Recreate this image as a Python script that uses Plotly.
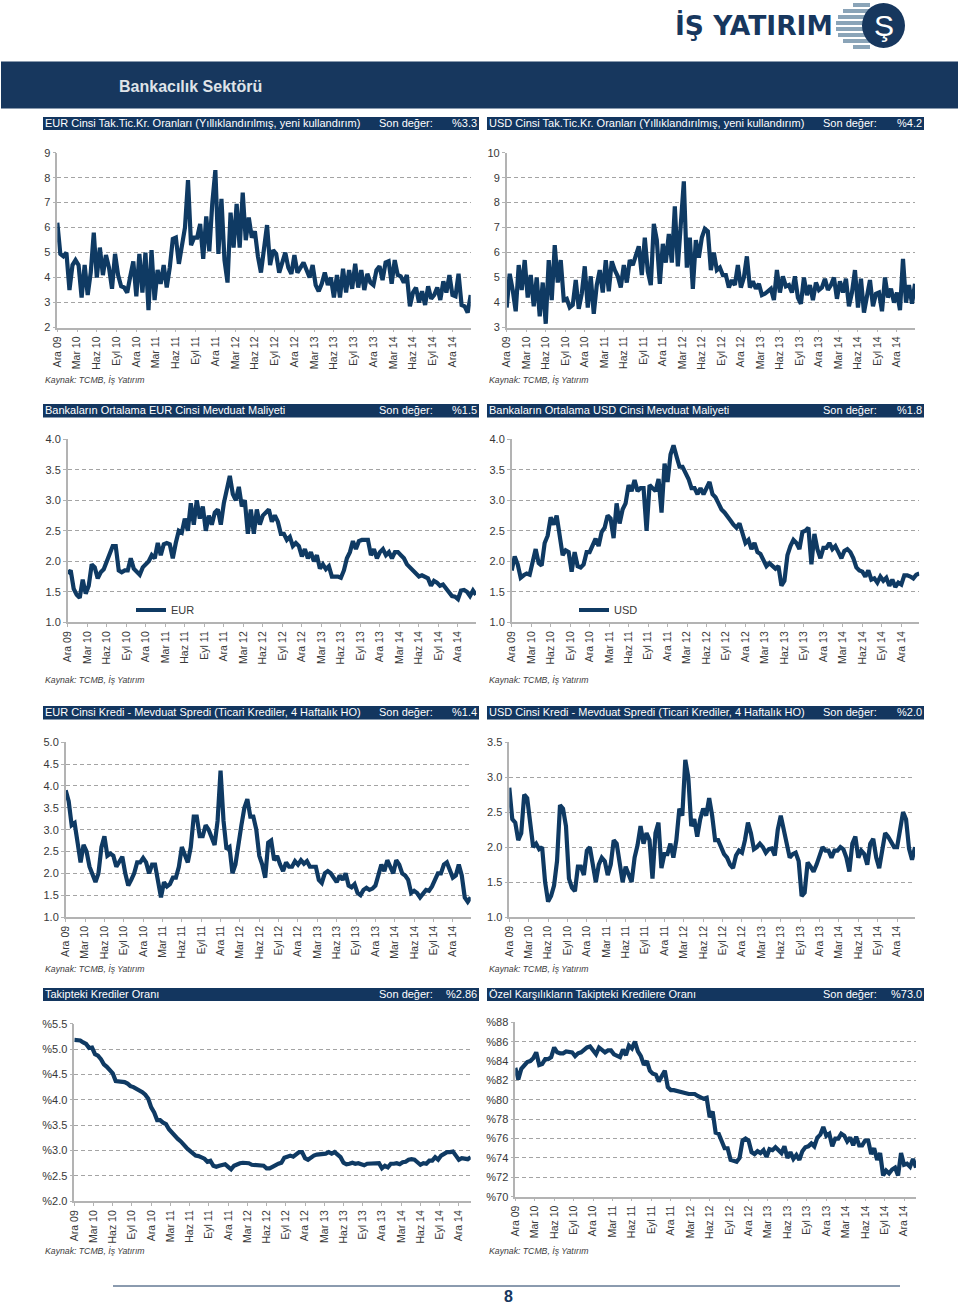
import plotly.graph_objects as go

tick_labels = ["Ara 09","Mar 10","Haz 10","Eyl 10","Ara 10","Mar 11","Haz 11","Eyl 11","Ara 11","Mar 12","Haz 12",
               "Eyl 12","Ara 12","Mar 13","Haz 13","Eyl 13","Ara 13","Mar 14","Haz 14","Eyl 14","Ara 14"]
tick_weeks = [13*i for i in range(len(tick_labels))]
SAMPLE_STEP_WEEKS = 2

eur_rate = [
6.2,4.95,4.85,5.0,3.5,4.5,4.7, 4.5,3.2,4.5,3.3,4.2,5.8,
4.0,5.2,4.1,4.9,4.4,3.55,4.95, 4.1,3.65,3.6,3.4,4.05,4.65,
3.25,4.95,3.4,5.0,2.7,5.1,3.1, 4.3,3.75,4.5,3.6,4.4,5.55,
5.6,4.55,5.2,6.0,7.9,5.3,5.6, 5.6,6.15,4.75,6.45,5.05,7.0,
8.3,4.95,7.15,4.7,3.8,6.6,5.2, 6.95,5.2,7.4,5.5,6.4,5.6,
5.85,4.85,4.2,5.1,6.1,4.5,5.1, 4.95,4.2,4.6,5.0,4.4,4.15,
4.9,4.2,4.4,4.6,4.3,4.0,4.5, 3.7,3.45,3.75,4.2,3.7,4.0,
3.2,4.1,3.2,4.35,3.4,4.3,3.55, 4.55,3.6,4.3,3.5,4.15,3.8,
3.7,4.3,4.45,3.9,4.6,4.65,3.75, 4.7,4.1,4.05,3.8,4.1,2.85,
3.4,3.6,3.0,3.45,2.9,3.65,3.15, 3.3,3.6,3.1,3.85,3.4,4.1,
3.3,3.25,4.15,2.9,2.85,2.6,3.3]

usd_rate = [
3.8,5.15,4.5,3.65,5.5,4.5,5.7, 4.2,5.1,3.85,5.0,3.45,4.8,
3.15,5.7,4.1,6.3,4.8,5.7,4.1, 4.15,3.8,3.9,4.9,3.75,4.35,
5.45,3.8,5.05,3.55,4.7,5.3,4.4, 5.7,4.45,5.65,5.3,5.05,4.6,
5.5,4.8,5.7,5.5,5.9,6.25,5.1, 6.6,5.25,4.7,7.15,6.5,4.75,
6.35,5.6,6.75,5.6,7.85,5.45,7.5, 8.85,5.4,6.6,4.55,6.5,5.8,
6.6,6.95,6.85,5.3,6.0,5.3,5.4, 5.1,5.1,4.6,4.9,4.7,5.5,
4.6,5.0,5.85,4.6,4.85,4.55,4.75, 4.3,4.35,4.45,4.55,4.1,5.3,
4.4,5.05,4.65,4.7,4.4,5.05,4.2, 3.95,5.0,4.3,4.7,4.1,4.8,
4.5,4.6,4.95,4.5,4.7,5.0,4.15, 4.85,4.4,4.95,3.85,4.4,5.3,
3.8,4.95,3.6,4.3,4.9,3.85,4.35, 4.4,3.65,5.0,4.2,4.55,4.0,
4.4,3.7,5.75,4.0,4.7,3.95,4.75]

eur_deposit = [
1.8,1.85,1.55,1.45,1.4,1.7,1.47, 1.6,1.95,1.9,1.72,1.82,1.87,
2.0,2.1,2.25,2.25,1.85,1.82,1.85, 1.85,2.05,1.88,1.82,1.78,1.9,
1.95,2.0,2.1,2.05,2.3,2.1,2.28, 2.3,2.28,2.05,2.3,2.5,2.47,
2.7,2.5,2.95,2.6,3.0,2.7,2.9, 2.5,2.75,2.6,2.8,2.85,2.6,
2.95,3.2,3.4,3.1,3.0,3.22,2.9, 3.0,2.45,2.85,2.45,2.85,2.6,
2.75,2.8,2.85,2.65,2.75,2.65,2.45, 2.45,2.35,2.4,2.25,2.3,2.25,
2.08,2.2,2.05,2.15,2.0,2.1,1.88, 1.95,1.87,1.92,1.75,1.75,1.75,
1.73,1.85,2.05,2.15,2.33,2.2,2.33, 2.35,2.35,2.35,2.1,2.2,2.05,
2.15,2.2,2.1,2.15,2.05,2.15,2.15, 2.1,2.05,1.95,1.9,1.85,1.8,
1.75,1.77,1.75,1.72,1.6,1.68,1.65, 1.6,1.62,1.55,1.48,1.43,1.42,
1.38,1.52,1.53,1.5,1.43,1.52,1.45]

usd_deposit = [
1.85,2.08,1.95,1.73,1.77,1.8,1.78, 2.0,2.2,1.97,1.93,2.3,2.42,
2.72,2.6,2.75,2.4,2.1,2.18,2.15, 1.83,2.15,1.92,1.9,1.95,2.15,
2.15,2.25,2.37,2.25,2.48,2.55,2.75, 2.7,2.38,2.95,2.62,2.85,2.95,
3.25,3.15,3.33,3.15,3.2,3.2,2.5, 3.25,3.2,3.15,3.35,2.8,3.6,
3.3,3.75,3.9,3.72,3.55,3.55,3.45, 3.35,3.2,3.2,3.1,3.2,3.1,
3.2,3.3,3.1,3.05,2.95,2.85,2.8, 2.72,2.67,2.6,2.55,2.62,2.45,
2.3,2.35,2.2,2.3,2.15,2.12,2.0, 1.92,1.97,1.92,1.88,1.92,1.6,
1.68,2.1,2.25,2.35,2.3,2.2,2.48, 2.5,2.55,1.95,2.45,2.2,2.05,
2.22,2.22,2.3,2.2,2.25,2.15,2.05, 2.17,2.2,2.15,2.05,1.9,1.85,
1.83,1.75,1.85,1.7,1.72,1.65,1.75, 1.68,1.73,1.6,1.7,1.58,1.65,
1.62,1.77,1.77,1.75,1.72,1.78,1.8]

eur_spread = [
3.9,3.65,3.1,3.15,2.7,2.25,2.65, 2.5,2.15,1.95,1.8,2.0,2.6,
2.85,2.4,2.45,2.4,2.15,2.25,2.38, 2.0,1.72,1.85,2.0,2.25,2.25,
2.35,2.25,2.0,2.2,2.2,1.75,1.45, 1.8,1.7,1.75,1.9,1.9,2.15,
2.6,2.42,2.25,2.6,3.3,3.3,2.85, 2.85,3.1,3.0,2.85,2.65,3.2,
4.35,3.2,2.55,2.6,2.0,2.2,2.7, 3.1,3.5,3.7,3.3,3.3,3.0,
2.4,2.2,1.9,2.7,2.75,2.3,2.4, 2.2,2.05,2.25,2.15,2.15,2.28,
2.2,2.3,2.22,2.28,2.15,2.15,2.15, 1.85,1.78,2.0,2.05,2.0,1.88,
1.8,1.95,1.85,2.0,1.72,1.68,1.75, 1.55,1.5,1.62,1.67,1.62,1.65,
1.72,1.95,2.2,2.05,2.3,2.15,2.0, 2.3,2.2,2.0,1.95,1.85,1.55,
1.6,1.55,1.45,1.52,1.62,1.6,1.7, 1.85,2.0,2.0,2.2,2.25,2.05,
1.9,1.95,2.2,1.95,1.45,1.35,1.45]

usd_spread = [
2.85,2.4,2.35,2.1,2.2,2.75,2.7, 2.4,2.0,2.05,1.97,2.0,1.5,
1.22,1.3,1.45,1.8,2.6,2.55,2.3, 1.55,1.42,1.37,1.72,1.72,1.6,
1.95,2.0,1.7,1.5,1.75,1.85,1.8, 1.6,1.75,2.1,2.05,1.75,1.5,
1.72,1.6,1.5,1.85,2.03,2.3,2.05, 2.2,2.1,1.55,2.2,2.35,1.7,
1.9,1.9,2.05,1.85,2.1,2.55,2.45, 3.25,3.0,2.3,2.4,2.15,2.4,
2.55,2.45,2.7,2.45,2.1,2.1,2.0, 1.9,1.85,1.75,1.7,1.88,1.95,
1.92,2.1,2.35,2.2,1.97,2.0,2.05, 2.0,1.92,1.97,1.98,1.88,2.25,
2.45,2.25,2.05,1.85,1.9,1.92,1.8, 1.3,1.35,1.78,1.72,1.65,1.75,
1.87,2.0,1.95,1.95,1.85,1.95,1.95, 2.0,1.97,1.85,1.65,2.05,2.15,
1.85,1.95,1.9,1.75,2.05,2.12,1.85, 1.7,1.95,2.2,2.15,2.08,2.0,
2.0,2.3,2.5,2.4,1.98,1.82,2.0]

npl_ratio = [
5.18,5.18,5.17,5.13,5.1,5.02,5.03, 4.9,4.87,4.8,4.7,4.65,4.57,
4.52,4.37,4.37,4.35,4.35,4.32,4.27, 4.25,4.22,4.18,4.15,4.1,4.02,
3.85,3.75,3.6,3.6,3.55,3.52,3.42, 3.35,3.28,3.23,3.18,3.1,3.05,
3.0,2.95,2.9,2.89,2.87,2.84,2.78, 2.8,2.7,2.68,2.7,2.72,2.73,
2.68,2.63,2.7,2.73,2.75,2.76,2.76, 2.75,2.72,2.72,2.72,2.7,2.7,
2.65,2.65,2.68,2.72,2.74,2.76,2.86, 2.88,2.9,2.88,2.93,2.97,2.97,
2.85,2.82,2.87,2.9,2.92,2.92,2.92, 2.94,2.97,2.94,2.97,2.92,2.87,
2.76,2.73,2.74,2.76,2.74,2.75,2.73, 2.71,2.74,2.74,2.76,2.76,2.75,
2.65,2.7,2.67,2.74,2.74,2.75,2.73, 2.77,2.78,2.82,2.83,2.82,2.77,
2.72,2.75,2.74,2.8,2.8,2.87,2.82, 2.9,2.93,2.97,2.97,2.98,2.9,
2.82,2.85,2.85,2.83,2.87]

provision_ratio = [
83.3,82.1,83.2,83.5,83.9,84,84.3, 84.9,83.6,83.7,84.2,84.2,84.4,
85.4,84.9,84.8,84.8,85,85,84.9, 84.5,84.8,84.9,85.2,85.4,85.5,
85,84.7,85.4,85.2,84.9,85.1,85.1, 84.7,84.6,84.4,85.2,84.6,85.6,
85.3,86,85,84.5,83.6,84,83, 82.7,82.6,81.9,82.4,83.0,81.3,
81,81,80.9,80.8,80.7,80.6,80.6, 80.6,80.6,80.4,80.3,80.1,80.2,
78.2,78.8,76.6,76.5,75.8,75,75, 73.8,73.7,73.6,74,75.8,76,
75.8,74.6,74.4,74.7,74.5,74.8,74.1, 74.9,74.8,75.1,74.8,74.5,75.2,
74,74.6,73.9,74.3,73.8,74.7,75.1, 75.2,75.5,75.2,76.1,76.4,77.2,
76.3,76.5,75.2,76,76,76.5,76.3, 75.7,76.1,75.3,76.2,75.3,75.3,
75.8,75.8,74.4,75,73.8,74.5,72.2, 72.7,72.4,72.8,73,72.2,74.5,
73.3,73.4,73.1,73.9,73]

ticks_plain_eur = ["2","3","4","5","6","7","8","9"]
ticks_plain_usd = ["3","4","5","6","7","8","9","10"]
ticks_dep = ["1.0","1.5","2.0","2.5","3.0","3.5","4.0"]
ticks_eur_spread = ["1.0","1.5","2.0","2.5","3.0","3.5","4.0","4.5","5.0"]
ticks_usd_spread = ["1.0","1.5","2.0","2.5","3.0","3.5"]
ticks_npl = ["%2.0","%2.5","%3.0","%3.5","%4.0","%4.5","%5.0","%5.5"]
ticks_prov = ["%70","%72","%74","%76","%78","%80","%82","%84","%86","%88"]

NAVY = "#0f3a63"
BAND = "#13365f"
TXT = "#383838"
GRID = "#a4a4a4"
FONT = "Liberation Sans"
W, H = 960, 1308

panels = [
 dict(series=eur_rate, name="EUR", box=(57.3,470.7,152.7,327.5), yr=(2,9), yt=list(range(2,10)), tt=ticks_plain_eur, xmax=272, legend=False),
 dict(series=usd_rate, name="USD", box=(506.7,915,152.7,327.5), yr=(3,10), yt=list(range(3,11)), tt=ticks_plain_usd, xmax=272, legend=False),
 dict(series=eur_deposit, name="EUR", box=(67.7,476,439.3,622.3), yr=(1,4), yt=[1,1.5,2,2.5,3,3.5,4], tt=ticks_dep, xmax=272, legend=True),
 dict(series=usd_deposit, name="USD", box=(511.7,919.3,439.3,622.3), yr=(1,4), yt=[1,1.5,2,2.5,3,3.5,4], tt=ticks_dep, xmax=272, legend=True),
 dict(series=eur_spread, name="EUR", box=(65.7,470.7,742.3,917), yr=(1,5), yt=[1,1.5,2,2.5,3,3.5,4,4.5,5], tt=ticks_eur_spread, xmax=272, legend=False),
 dict(series=usd_spread, name="USD", box=(509.3,915,742.3,917), yr=(1,3.5), yt=[1,1.5,2,2.5,3,3.5], tt=ticks_usd_spread, xmax=272, legend=False),
 dict(series=npl_ratio, name="NPL", box=(74.3,470.7,1023.7,1201.3), yr=(2,5.5), yt=[2,2.5,3,3.5,4,4.5,5,5.5], tt=ticks_npl, xmax=268, legend=False),
 dict(series=provision_ratio, name="Provision", box=(515.3,916,1022.3,1196.7), yr=(70,88), yt=list(range(70,90,2)), tt=ticks_prov, xmax=268, legend=False),
]

section_bars = [
 (43,479,117,130,"EUR Cinsi Tak.Tic.Kr. Oranları (Yıllıklandırılmış, yeni kullandırım)","%3.3"),
 (487,924,117,130,"USD Cinsi Tak.Tic.Kr. Oranları (Yıllıklandırılmış, yeni kullandırım)","%4.2"),
 (43,479,404,417.5,"Bankaların Ortalama EUR Cinsi Mevduat Maliyeti","%1.5"),
 (487,924,404,417.5,"Bankaların Ortalama USD Cinsi Mevduat Maliyeti","%1.8"),
 (43,479,706,719.5,"EUR Cinsi Kredi - Mevduat Spredi (Ticari Krediler, 4 Haftalık HO)","%1.4"),
 (487,924,706,719.5,"USD Cinsi Kredi - Mevduat Spredi (Ticari Krediler, 4 Haftalık HO)","%2.0"),
 (43,479,988,1001,"Takipteki Krediler Oranı","%2.86"),
 (487,924,988,1001,"Özel Karşılıkların Takipteki Kredilere Oranı","%73.0"),
]
source_rows = [380,680,969,1251]

def px(x): return x/W
def py(y): return 1-y/H

fig = go.Figure()
shapes, ann = [], []

layout = dict(width=W, height=H, margin=dict(l=0,r=0,t=0,b=0,autoexpand=False), paper_bgcolor="white", plot_bgcolor="white",
              font=dict(family=FONT, color=TXT), showlegend=True)

legend_pos = {"EUR":(135,610), "USD":(578,610)}
leg_n = 0
for i, p in enumerate(panels, start=1):
    xa = "xaxis" if i==1 else f"xaxis{i}"
    ya = "yaxis" if i==1 else f"yaxis{i}"
    l,r,t,b = p["box"]
    weeks = [SAMPLE_STEP_WEEKS*k for k in range(len(p["series"]))]
    tr = dict(x=weeks, y=p["series"], mode="lines", name=p["name"], showlegend=p["legend"],
              line=dict(color=NAVY, width=4.2, shape="linear"),
              xaxis=f"x{'' if i==1 else i}", yaxis=f"y{'' if i==1 else i}")
    if p["legend"]:
        leg_n += 1
        tr["legend"] = "legend" if leg_n==1 else f"legend{leg_n}"
        lx, ly = legend_pos[p["name"]]
        layout[tr["legend"]] = dict(x=px(lx-4), y=py(ly), xanchor="left", yanchor="middle", bgcolor="rgba(0,0,0,0)",
                                    font=dict(size=11,color=TXT,family=FONT), itemwidth=30, borderwidth=0)
    fig.add_trace(go.Scatter(**tr))
    layout[xa] = dict(domain=[px(l),px(r)], range=[0,p["xmax"]], anchor=f"y{'' if i==1 else i}",
                      tickmode="array", tickvals=tick_weeks, ticktext=tick_labels, tickangle=-90,
                      tickfont=dict(size=10.5,color=TXT,family=FONT), showgrid=False, zeroline=False,
                      showline=True, linecolor="#b3b3b3", linewidth=1.5, ticks="outside", ticklen=3, tickcolor="#b3b3b3")
    layout[ya] = dict(domain=[py(b),py(t)], range=list(p["yr"]), anchor=f"x{'' if i==1 else i}",
                      tickmode="array", tickvals=p["yt"], ticktext=p["tt"],
                      tickfont=dict(size=11,color=TXT,family=FONT), showgrid=True, gridcolor=GRID, griddash="4px,3px", gridwidth=1,
                      zeroline=False, showline=True, linecolor="#b3b3b3", linewidth=1.5, ticks="outside", ticklen=3, tickcolor="#b3b3b3")

def rect(x0,x1,y0,y1,color,**kw):
    shapes.append(dict(type="rect",xref="paper",yref="paper",x0=px(x0),x1=px(x1),y0=py(y0),y1=py(y1),
                       fillcolor=color,line=dict(width=0),layer=kw.get("layer","below")))
def text(x,y,s,size,color,anchor="left",bold=False,italic=False,family=FONT):
    t = f"<b>{s}</b>" if bold else s
    if italic: t = f"<i>{t}</i>"
    ann.append(dict(xref="paper",yref="paper",x=px(x),y=py(y),text=t,showarrow=False,xanchor=anchor,yanchor="middle",
                    xshift=0,font=dict(size=size,color=color,family=family),align=anchor))

# header band
rect(1,958,61.5,108.5,"#17375e")
text(117,87,"Bankacılık Sektörü",16,"#dfe3e8",bold=True)

# sections
for x0,x1,y0,y1,title,val in section_bars:
    rect(x0,x1,y0,y1,BAND)
    ym = (y0+y1)/2 - 0.5
    text(x0-0.5,ym,title,11,"white")
    text(x0+334,ym,"Son değer:",11,"white")
    text(x1,ym,val,11,"white",anchor="right")

for y in source_rows:
    for x in (43,487):
        text(x,y,"Kaynak: TCMB, İş Yatırım",8.7,"#404040",italic=True)

# footer
shapes.append(dict(type="line",xref="paper",yref="paper",x0=px(113),x1=px(900),y0=py(1286),y1=py(1286),line=dict(color="#17375e",width=1)))
text(509,1296,"8",16,"#17375e",anchor="center",bold=True)

# logo
text(673,26,"İŞ YATIRIM",26.5,"#17375e",bold=True,family="DejaVu Sans")
stripes = [(853,870,3,7),(843,870,9,13),(838,870,15,19),(836,870,21,25),(836,870,27,31),(838,870,33,37),(843,870,39,43),(853,870,45,49)]
for x0,x1,y0,y1 in stripes:
    rect(x0,x1,y0,y1,"#8aa4b8")
shapes.append(dict(type="circle",xref="paper",yref="paper",x0=px(862),x1=px(905),y0=py(3),y1=py(48),fillcolor="#17375e",line=dict(width=0),layer="above"))
text(884,26,"Ş",30,"white",anchor="center")

layout["shapes"]=shapes
layout["annotations"]=ann
fig.update_layout(**layout)
fig.write_html("out.html", post_script="document.body.style.margin='0';", config={"displayModeBar":False})
